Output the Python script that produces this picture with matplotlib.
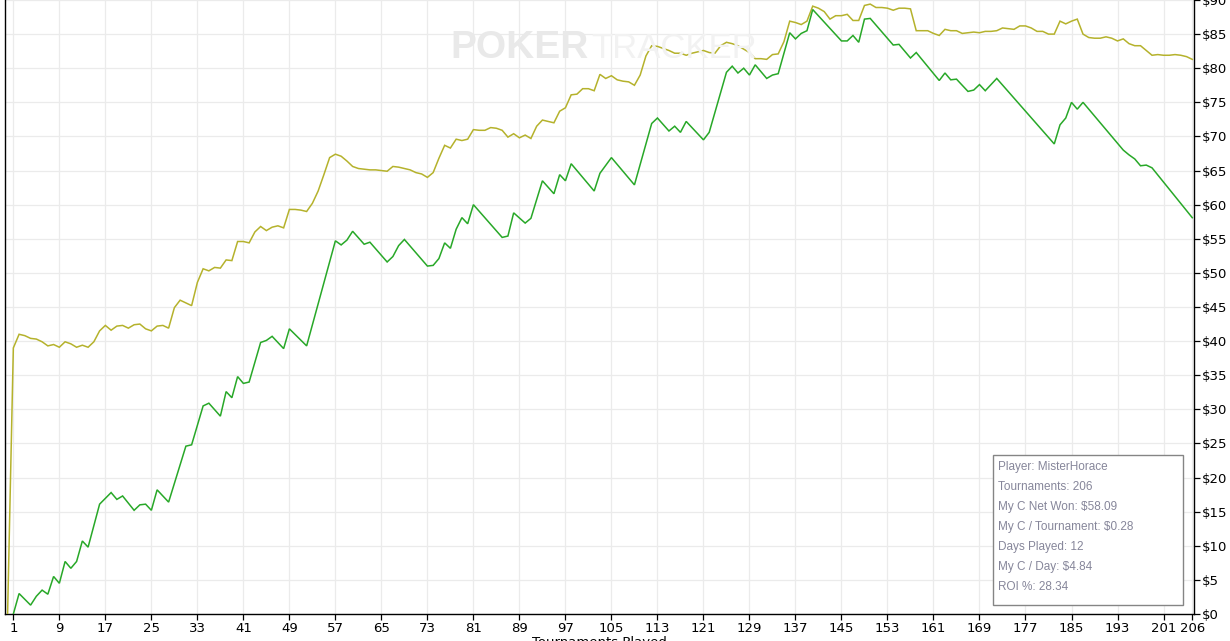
import matplotlib
matplotlib.use("Agg")
import matplotlib.pyplot as plt
from matplotlib.patches import Rectangle
from matplotlib.ticker import FuncFormatter

# ---------------- data ----------------
# "My C Net Won" (green) - vertices (tournament, $)
green_t = [1, 2, 4, 5, 6, 7, 8, 9, 10, 11, 12, 13, 14, 16, 18, 19, 20, 22, 23, 24,
           25, 26, 28, 31, 32, 34, 35, 37, 38, 39, 40, 41, 42, 44, 45, 46, 48, 49, 52, 57,
           58, 59, 60, 62, 63, 66, 67, 68, 69, 73, 74, 75, 76, 77, 78, 79, 80, 81, 86, 87,
           88, 90, 91, 93, 95, 96, 97, 98, 102, 103, 105, 109, 112, 113, 115, 116, 117, 118, 121, 122,
           125, 126, 127, 128, 129, 130, 132, 133, 134, 136, 137, 138, 139, 140, 145, 146, 147, 148, 149, 150,
           154, 155, 157, 158, 162, 163, 164, 165, 167, 168, 169, 170, 172, 182, 183, 184, 185, 186, 187, 194,
           195, 196, 197, 198, 199, 206]
green_v = [0.0, 3.0, 1.3, 2.6, 3.5, 2.9, 5.5, 4.5, 7.7, 6.7, 7.7, 10.7, 9.8, 16.1, 17.8, 16.8, 17.3, 15.2, 16.0, 16.1,
           15.2, 18.2, 16.4, 24.6, 24.8, 30.5, 30.9, 29.0, 32.6, 31.7, 34.8, 33.8, 34.0, 39.8, 40.1, 40.7, 38.9, 41.8, 39.3, 54.7,
           54.1, 54.8, 56.1, 54.2, 54.5, 51.6, 52.4, 54.0, 54.9, 51.0, 51.1, 52.1, 54.4, 53.6, 56.4, 58.1, 57.2, 60.0, 55.2, 55.4,
           58.8, 57.3, 58.0, 63.5, 61.6, 64.4, 63.5, 66.0, 62.0, 64.6, 66.9, 62.9, 71.9, 72.7, 70.8, 71.5, 70.6, 72.2, 69.5, 70.6,
           79.4, 80.3, 79.3, 80.0, 79.0, 80.5, 78.5, 79.0, 79.2, 85.2, 84.3, 85.1, 85.5, 88.6, 84.0, 84.0, 84.8, 83.8, 87.2, 87.3,
           83.4, 83.5, 81.5, 82.3, 78.2, 79.3, 78.3, 78.4, 76.6, 76.8, 77.6, 76.7, 78.5, 68.9, 71.7, 72.7, 75.0, 74.0, 75.0, 68.0,
           67.3, 66.7, 65.7, 65.8, 65.4, 58.09]

# second (gold) series, one value per tournament 0..206
gold_v = [0.0, 39.0, 41.0, 40.8, 40.4, 40.3, 39.9, 39.3, 39.5, 39.1,
          39.9, 39.6, 39.1, 39.4, 39.1, 39.9, 41.5, 42.3, 41.6, 42.2,
          42.3, 41.9, 42.4, 42.5, 41.8, 41.5, 42.2, 42.3, 41.9, 44.9,
          46.0, 45.6, 45.2, 48.6, 50.6, 50.3, 50.8, 50.7, 51.9, 51.8,
          54.6, 54.6, 54.4, 56.0, 56.8, 56.2, 56.7, 56.9, 56.6, 59.3,
          59.3, 59.2, 59.0, 60.2, 62.0, 64.4, 66.9, 67.4, 67.1, 66.4,
          65.6, 65.3, 65.2, 65.1, 65.1, 65.0, 64.9, 65.6, 65.5, 65.3,
          65.1, 64.7, 64.5, 64.0, 64.7, 66.8, 68.7, 68.3, 69.6, 69.4,
          69.6, 71.0, 70.9, 70.9, 71.3, 71.2, 70.9, 69.9, 70.4, 69.8,
          70.2, 69.7, 71.5, 72.4, 72.2, 72.0, 73.7, 74.2, 76.1, 76.2,
          77.0, 77.0, 76.7, 79.1, 78.5, 78.9, 78.3, 78.1, 78.0, 77.5,
          79.0, 81.8, 83.3, 83.2, 82.9, 82.6, 82.2, 82.2, 81.9, 82.2,
          82.4, 82.6, 82.3, 82.2, 83.3, 83.8, 83.6, 83.3, 82.8, 82.3,
          81.4, 81.4, 81.3, 82.0, 82.1, 83.9, 86.9, 86.7, 86.4, 86.9,
          89.1, 88.8, 88.3, 87.2, 87.7, 87.7, 87.9, 87.0, 87.0, 89.2,
          89.4, 88.9, 88.9, 88.8, 88.5, 88.8, 88.8, 88.7, 85.5, 85.5,
          85.5, 85.1, 84.8, 85.7, 85.5, 85.5, 85.1, 85.2, 85.3, 85.2,
          85.4, 85.4, 85.5, 85.9, 85.8, 85.7, 86.2, 86.2, 85.9, 85.4,
          85.4, 85.0, 85.0, 86.9, 86.5, 86.9, 87.2, 85.0, 84.5, 84.4,
          84.4, 84.6, 84.4, 84.0, 84.3, 83.6, 83.3, 83.3, 82.6, 81.9,
          82.0, 81.9, 81.9, 82.0, 81.9, 81.7, 81.3]
gold_t = list(range(len(gold_v)))

x_ticks = [1, 9, 17, 25, 33, 41, 49, 57, 65, 73, 81, 89, 97, 105, 113, 121, 129, 137,
           145, 153, 161, 169, 177, 185, 193, 201, 206]
y_ticks = list(range(0, 95, 5))

stats_lines = ["Player: MisterHorace", "Tournaments: 206", "My C Net Won: $58.09",
               "My C / Tournament: $0.28", "Days Played: 12", "My C / Day: $4.84",
               "ROI %: 28.34"]
x_label = "Tournaments Played"

# ---------------- figure ----------------
W, H = 1230, 641
fig = plt.figure(figsize=(W / 100, H / 100), dpi=100)
fig.patch.set_facecolor("white")
L, R, B, T = 5, 1194, 614, 0
ax = fig.add_axes([L / W, (H - B) / H, (R - L) / W, (B - T) / H])

tick_font = ["Liberation Sans Narrow", "DejaVu Sans Condensed", "DejaVu Sans"]

# watermark
fig.text(450 / W, 1 - 48 / H, "POKER", fontsize=28, fontweight="bold",
         family=["Liberation Sans", "DejaVu Sans"], color="#e9e9e9",
         ha="left", va="center", zorder=0)
fig.text(591 / W, 1 - 48 / H, "TRACKER", fontsize=25,
         family=["Liberation Sans", "DejaVu Sans"], color="#f2f2f2",
         ha="left", va="center", zorder=0)
ax.set_facecolor("none")

ax.plot(gold_t, gold_v, color="#b5b22c", lw=1.1, zorder=3, solid_joinstyle="miter")
ax.plot(green_t, green_v, color="#28a828", lw=1.1, zorder=4, solid_joinstyle="miter")

ax.set_xlim(-0.45, 206.3)
ax.set_ylim(0, 90)
ax.set_xticks(x_ticks)
ax.set_yticks(y_ticks)
ax.yaxis.tick_right()
ax.yaxis.set_major_formatter(FuncFormatter(lambda v, p: f"${int(v)}"))
ax.grid(True, color="#ebebeb", lw=0.9, zorder=0)
ax.set_axisbelow(True)
for s in ["left", "bottom", "right"]:
    ax.spines[s].set_color("black")
    ax.spines[s].set_linewidth(1.0)
ax.spines["top"].set_visible(False)
ax.tick_params(axis="both", direction="out", length=4, width=0.9, color="black",
               labelsize=9.5, labelcolor="black", pad=2)
for lab in ax.get_xticklabels() + ax.get_yticklabels():
    lab.set_family(tick_font)

fig.text(((L + R) / 2) / W, 1 - 636 / H, x_label, fontsize=9.5, family=tick_font,
         ha="center", va="top", color="black")

# stats box
bx0, by0, bx1, by1 = 993, 455, 1183, 605
fig.patches.append(Rectangle((bx0 / W, 1 - by1 / H), (bx1 - bx0) / W, (by1 - by0) / H,
                             transform=fig.transFigure, facecolor="white",
                             edgecolor="#858585", lw=1.0, zorder=5))
for i, line in enumerate(stats_lines):
    fig.text(998 / W, 1 - (467 + 20 * i) / H, line, fontsize=8.5,
             family=["Liberation Sans", "DejaVu Sans"], color="#86869a",
             ha="left", va="center", zorder=6)

fig.savefig("out.png", dpi=100, facecolor="white")
